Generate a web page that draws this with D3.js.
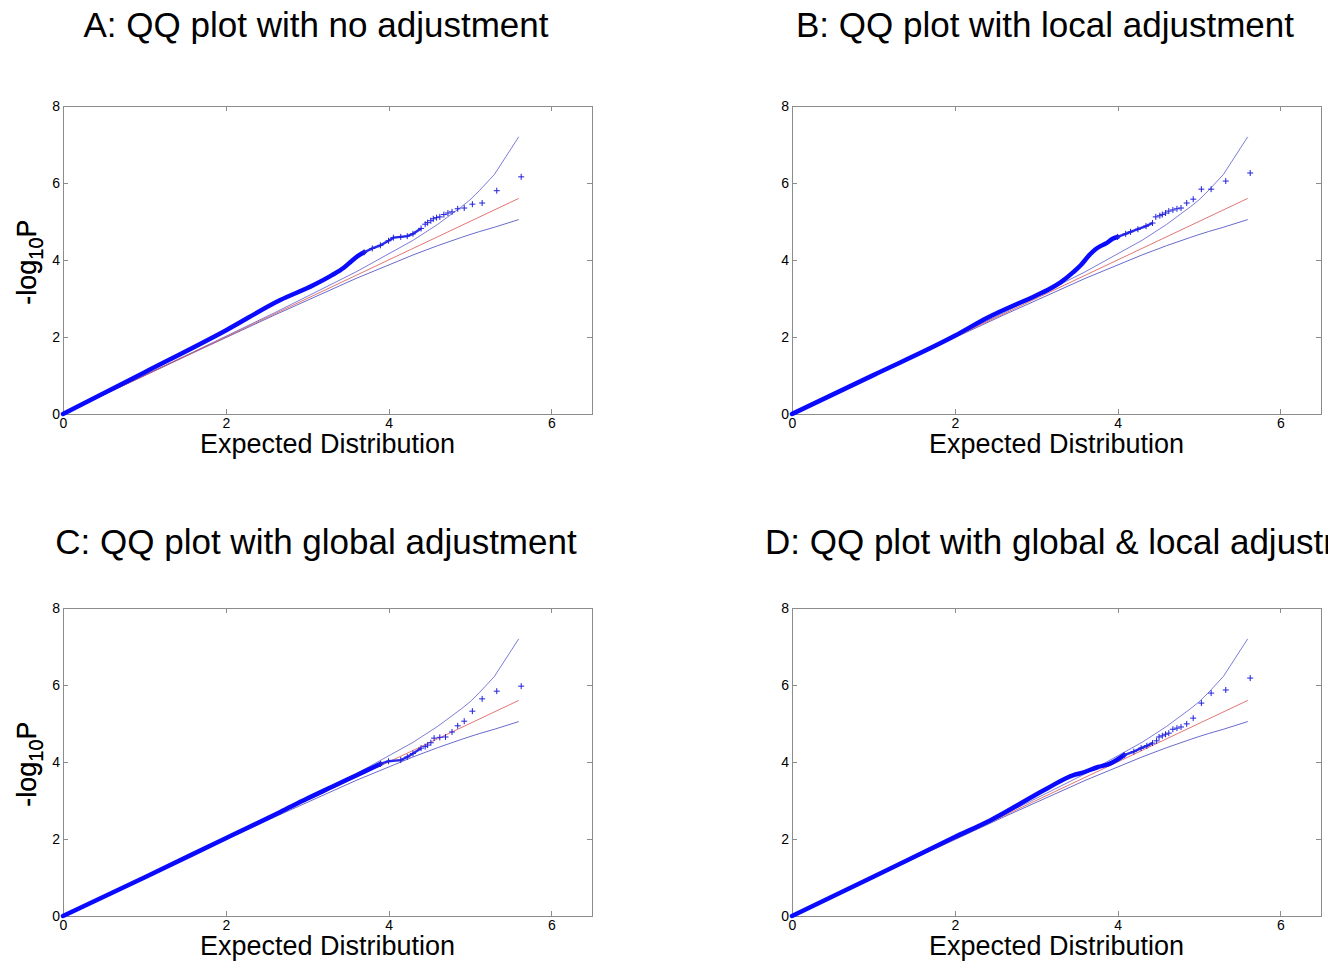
<!DOCTYPE html>
<html>
<head>
<meta charset="utf-8">
<script src="https://cdn.jsdelivr.net/npm/d3@7"></script>
<style>
  body { margin: 0; background: #fff; }
  svg { display: block; font-family: "Liberation Sans", Arial, sans-serif; }
  .axis path, .axis line { stroke: #8c8c8c; shape-rendering: crispEdges; }
  .axis text { fill: #000; font-size: 14px; font-family: "Liberation Sans", Arial, sans-serif; }
  .title { font-size: 35px; fill: #000; }
  .axis-title { font-size: 27px; fill: #000; }
</style>
</head>
<body>
<script>
// expected -log10 p (shared by all four panels)
const expectedLine = [0, 5.6];

// 95% envelope
const bandX     = [0, 1.6, 2.6, 3.6, 4.3, 4.6, 4.9, 5.0, 5.12, 5.3, 5.6];
const bandUpper = [0, 1.61, 2.63, 3.69, 4.51, 4.92, 5.39, 5.56, 5.81, 6.22, 7.2];
const bandLower = [0, 1.59, 2.57, 3.52, 4.13, 4.37, 4.59, 4.66, 4.74, 4.85, 5.05];

const xTicks = [0, 2, 4, 6];
const yTicks = [0, 2, 4, 6, 8];

// observed points: [expected, observed]
// dense = the bulk that draws as a solid line, mid = thinner run, tail = single markers
const denseA = [[0, 0], [1, 1.08], [2, 2.17], [2.67, 2.96], [3.08, 3.35], [3.3, 3.6],
                [3.45, 3.8], [3.55, 3.98], [3.62, 4.1], [3.7, 4.2]];
const midA   = [[3.7, 4.2], [3.8, 4.3], [3.9, 4.38], [4.0, 4.5], [4.06, 4.58], [4.15, 4.6],
                [4.23, 4.62], [4.3, 4.68], [4.4, 4.82]];
const tailA  = [[4.45, 4.93], [4.48, 4.97], [4.52, 5.02], [4.55, 5.07], [4.59, 5.1], [4.63, 5.12],
                [4.68, 5.18], [4.73, 5.22], [4.78, 5.25], [4.85, 5.33], [4.93, 5.35], [5.03, 5.45],
                [5.15, 5.48], [5.33, 5.8], [5.63, 6.16]];

const denseB = [[0, 0], [1, 1.01], [2, 2.03], [2.4, 2.5], [3.0, 3.08], [3.14, 3.22], [3.3, 3.42],
                [3.46, 3.69], [3.55, 3.87], [3.65, 4.12], [3.73, 4.28], [3.79, 4.36], [3.85, 4.42],
                [3.94, 4.55], [4.0, 4.6]];
const midB   = [[4.0, 4.6], [4.1, 4.68], [4.16, 4.73], [4.25, 4.8], [4.35, 4.88], [4.43, 4.96]];
const tailB  = [[4.47, 5.12], [4.52, 5.15], [4.55, 5.18], [4.59, 5.22], [4.63, 5.27], [4.68, 5.3],
                [4.73, 5.33], [4.78, 5.35], [4.85, 5.48], [4.93, 5.58], [5.03, 5.84], [5.15, 5.84],
                [5.33, 6.05], [5.63, 6.26]];

const denseC = [[0, 0], [1, 1.0], [2, 2.02], [2.67, 2.7], [3.0, 3.05], [3.3, 3.35], [3.5, 3.55],
                [3.7, 3.75], [3.9, 3.95]];
const midC   = [[3.9, 3.95], [4.0, 4.02], [4.15, 4.05], [4.23, 4.13], [4.3, 4.22], [4.4, 4.36]];
const tailC  = [[4.45, 4.4], [4.48, 4.44], [4.52, 4.5], [4.56, 4.62], [4.63, 4.64], [4.7, 4.65],
                [4.78, 4.78], [4.85, 4.94], [4.93, 5.06], [5.03, 5.32], [5.15, 5.64], [5.33, 5.84],
                [5.63, 5.97]];

const denseD = [[0, 0], [1, 1.02], [2, 2.05], [2.44, 2.49], [3.14, 3.32], [3.46, 3.66],
                [3.55, 3.71], [3.76, 3.87], [3.9, 3.95], [4.08, 4.18]];
const midD   = [[4.08, 4.18], [4.2, 4.27], [4.29, 4.36], [4.36, 4.42], [4.43, 4.49]];
const tailD  = [[4.48, 4.55], [4.51, 4.65], [4.55, 4.68], [4.59, 4.72], [4.63, 4.75], [4.68, 4.85],
                [4.73, 4.88], [4.78, 4.91], [4.85, 4.99], [4.93, 5.14], [5.03, 5.53], [5.15, 5.79],
                [5.33, 5.87], [5.63, 6.18]];

const titles = ["A: QQ plot with no adjustment",
                "B: QQ plot with local adjustment",
                "C: QQ plot with global adjustment",
                "D: QQ plot with global & local adjustment"];

// layout
const plotW = 529, plotH = 308;
const panels = [
  {title: titles[0], dense: denseA, mid: midA, tail: tailA, left: 63,  top: 106, titleX: 316, titleY: 37, anchor: "middle"},
  {title: titles[1], dense: denseB, mid: midB, tail: tailB, left: 792, top: 106, titleX: 1045, titleY: 37, anchor: "middle"},
  {title: titles[2], dense: denseC, mid: midC, tail: tailC, left: 63,  top: 608, titleX: 316, titleY: 554, anchor: "middle"},
  {title: titles[3], dense: denseD, mid: midD, tail: tailD, left: 792, top: 608, titleX: 765, titleY: 554, anchor: "start"}
];

const svg = d3.select("body")
              .append("svg")
              .attr("width", 1340)
              .attr("height", 964);

// the source figure is cropped just right of panel D
svg.append("clipPath")
   .attr("id", "page-clip")
   .append("rect")
   .attr("width", 1328)
   .attr("height", 964);

const x = d3.scaleLinear().domain([0, 6.5]).range([0, plotW]);
const y = d3.scaleLinear().domain([0, 8]).range([plotH, 0]);

const line = d3.line()
               .x(d => x(d[0]))
               .y(d => y(d[1]));

const bandUp = bandX.map((v, i) => [v, bandUpper[i]]);
const bandLo = bandX.map((v, i) => [v, bandLower[i]]);
const expPts = expectedLine.map(v => [v, v]);

panels.forEach(p => {
  svg.append("text")
     .attr("class", "title")
     .attr("x", p.titleX)
     .attr("y", p.titleY)
     .attr("text-anchor", p.anchor)
     .attr("clip-path", "url(#page-clip)")
     .text(p.title);

  let g = svg.append("g")
             .attr("transform", `translate(${p.left},${p.top})`);

  // box + inward ticks on all four sides
  g.append("g")
   .attr("class", "axis")
   .attr("transform", `translate(0,${plotH})`)
   .call(d3.axisBottom(x).tickValues(xTicks).tickFormat(d3.format("d"))
           .tickSizeInner(-5).tickSizeOuter(0).tickPadding(4));
  g.append("g")
   .attr("class", "axis")
   .call(d3.axisTop(x).tickValues(xTicks).tickSizeInner(-5).tickSizeOuter(0).tickFormat(""));
  g.append("g")
   .attr("class", "axis")
   .call(d3.axisLeft(y).tickValues(yTicks).tickFormat(d3.format("d"))
           .tickSizeInner(-5).tickSizeOuter(0).tickPadding(3));
  g.append("g")
   .attr("class", "axis")
   .attr("transform", `translate(${plotW},0)`)
   .call(d3.axisRight(y).tickValues(yTicks).tickSizeInner(-5).tickSizeOuter(0).tickFormat(""));

  // envelope and expected line
  g.append("path")
   .datum(bandUp)
   .attr("d", line)
   .attr("fill", "none")
   .attr("stroke", "#5a5acc")
   .attr("stroke-width", 0.8);
  g.append("path")
   .datum(bandLo)
   .attr("d", line)
   .attr("fill", "none")
   .attr("stroke", "#4444c0")
   .attr("stroke-width", 0.8);
  g.append("path")
   .datum(expPts)
   .attr("d", line)
   .attr("fill", "none")
   .attr("stroke", "#d9534f")
   .attr("stroke-width", 0.8);

  // observed
  g.append("path")
   .datum(p.dense)
   .attr("d", line.curve(d3.curveMonotoneX))
   .attr("fill", "none")
   .attr("stroke", "#0a0aff")
   .attr("stroke-width", 4.5)
   .attr("stroke-linecap", "round");
  line.curve(d3.curveLinear);

  g.append("path")
   .datum(p.mid)
   .attr("d", line)
   .attr("fill", "none")
   .attr("stroke", "#2a2aee")
   .attr("stroke-width", 2.4);

  g.selectAll(".mark")
   .data(p.mid.concat(p.tail))
   .join("path")
   .attr("class", "mark")
   .attr("transform", d => `translate(${x(d[0])},${y(d[1])})`)
   .attr("d", "M-3,0H3M0,-3V3")
   .attr("stroke", "#2020dd")
   .attr("stroke-width", 1);

  // axis titles
  g.append("text")
   .attr("class", "axis-title")
   .attr("x", plotW / 2)
   .attr("y", plotH + 39)
   .attr("text-anchor", "middle")
   .text("Expected Distribution");

  let yl = g.append("text")
            .attr("class", "axis-title")
            .attr("text-anchor", "middle")
            .attr("transform", `translate(${36 - p.left},${plotH / 2 + 2}) rotate(-90)`);
  yl.append("tspan").text("-log");
  yl.append("tspan").attr("dy", 7).attr("font-size", 20).text("10");
  yl.append("tspan").attr("dy", -7).text("P");
});
</script>
</body>
</html>
